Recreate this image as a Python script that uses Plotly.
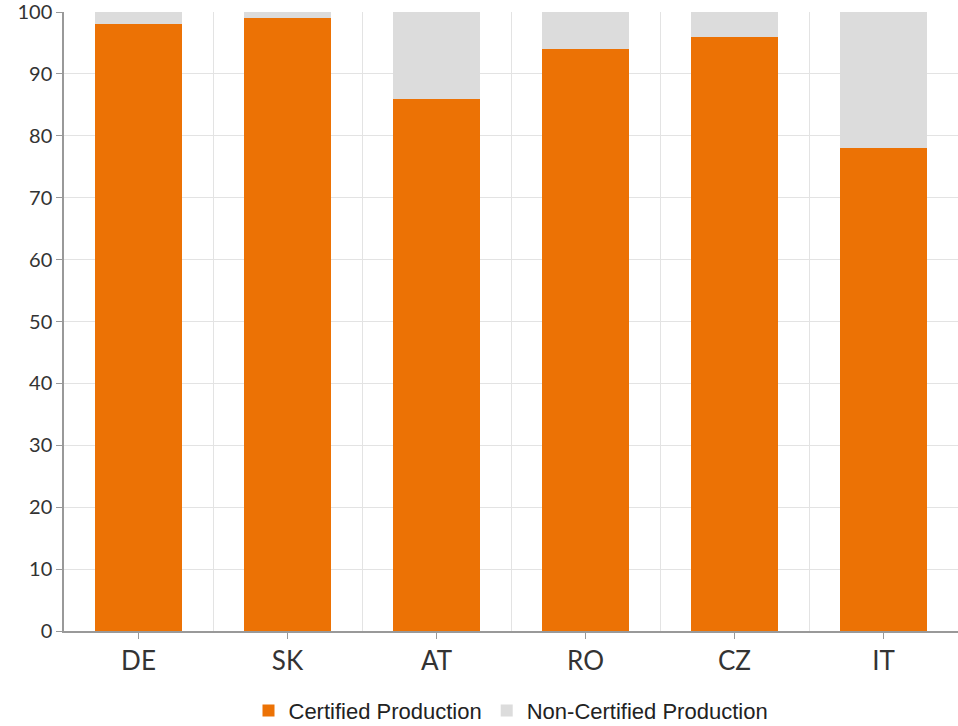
import plotly.graph_objects as go

countries = ["DE", "SK", "AT", "RO", "CZ", "IT"]
certified = [98, 99, 86, 94, 96, 78]
non_certified = [2, 1, 14, 6, 4, 22]

idx = list(range(len(countries)))

fig = go.Figure()
fig.add_trace(go.Bar(x=idx, y=certified, name="Certified Production",
                     marker=dict(color="#EC7205", line=dict(width=0)), width=0.58))
fig.add_trace(go.Bar(x=idx, y=non_certified, name="Non-Certified Production",
                     marker=dict(color="#DCDCDC", line=dict(width=0)), width=0.58))

fig.update_layout(
    barmode="stack",
    width=958, height=726,
    margin=dict(l=64, r=0, t=12, b=95, autoexpand=False),
    plot_bgcolor="white", paper_bgcolor="white",
    font=dict(family="Lato", color="#333333"),
    showlegend=True,
    legend=dict(orientation="h", x=0.5, xanchor="center", y=-0.095, yanchor="top",
                font=dict(family="Liberation Sans", size=22, color="#222222"),
                traceorder="normal"),
    xaxis=dict(range=[-0.5, len(countries) - 0.5], tickmode="array", tickvals=idx,
               ticktext=countries, showgrid=False, ticks="outside", ticklen=6,
               tickcolor="#999999", showline=True, linecolor="#999999", linewidth=1.5,
               tickfont=dict(family="Lato", size=26, color="#333333")),
    xaxis2=dict(overlaying="x", matches="x", tickmode="array",
                tickvals=[i + 0.5 for i in idx[:-1]], showgrid=True,
                gridcolor="#E3E3E3", showticklabels=False, ticks="", showline=False),
    yaxis=dict(range=[0, 100], dtick=10, showgrid=True, gridcolor="#E3E3E3",
               ticks="outside", ticklen=6, tickcolor="#999999", showline=True,
               linecolor="#999999", linewidth=1.5, zeroline=False,
               ticklabeloverflow="allow",
               tickfont=dict(family="Lato", size=20, color="#333333")),
)
fig.add_trace(go.Scatter(x=[idx[0]], y=[0], xaxis="x2", mode="markers",
                         marker=dict(opacity=0), showlegend=False, hoverinfo="skip"))
fig.write_html("out.html", config={"displayModeBar": False},
               post_script="document.body.style.margin='0';document.body.style.overflow='hidden';")
